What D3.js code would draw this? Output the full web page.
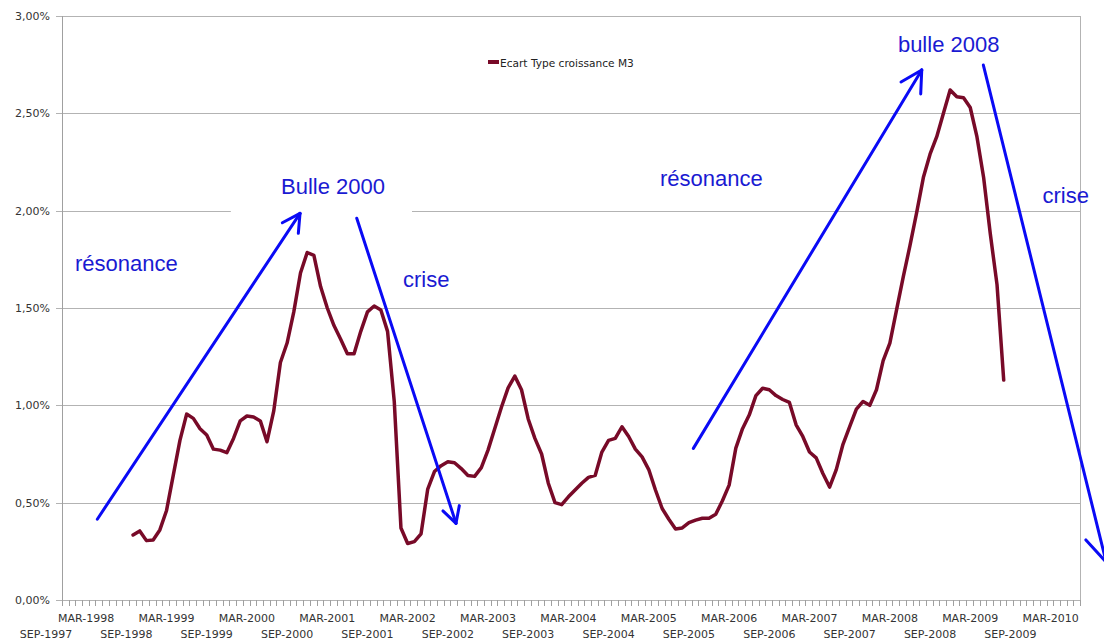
<!DOCTYPE html>
<html>
<head>
<meta charset="utf-8">
<script src="https://cdn.jsdelivr.net/npm/d3@7"></script>
<style>
  html, body { margin: 0; padding: 0; background: #fff; }
  svg { display: block; }
</style>
</head>
<body>
<svg id="chart" width="1104" height="641"></svg>
<script>
// ---------------- DATA ----------------
const yTicks = [0, 0.5, 1, 1.5, 2, 2.5, 3];
const xTickLabels = [
  "SEP-1997","MAR-1998","SEP-1998","MAR-1999","SEP-1999","MAR-2000","SEP-2000",
  "MAR-2001","SEP-2001","MAR-2002","SEP-2002","MAR-2003","SEP-2003","MAR-2004",
  "SEP-2004","MAR-2005","SEP-2005","MAR-2006","SEP-2006","MAR-2007","SEP-2007",
  "MAR-2008","SEP-2008","MAR-2009","SEP-2009","MAR-2010"
];
const seriesName = "Ecart Type croissance M3";
const seriesStart = "OCT-1998";           // first monthly value
const seriesValues = [                      // % , monthly
  0.334,0.355,0.305,0.308,0.36,0.46,0.64,0.82,0.955,0.933,0.88,0.848,
  0.775,0.77,0.757,0.83,0.92,0.945,0.94,0.92,0.813,0.97,1.22,1.32,
  1.48,1.68,1.785,1.77,1.61,1.50,1.41,1.34,1.265,1.265,1.38,1.48,
  1.51,1.49,1.38,1.02,0.37,0.29,0.30,0.34,0.57,0.66,0.69,0.71,
  0.705,0.675,0.64,0.635,0.68,0.77,0.88,0.99,1.09,1.15,1.08,0.93,
  0.83,0.75,0.60,0.50,0.49,0.53,0.565,0.60,0.63,0.64,0.76,0.82,
  0.83,0.89,0.84,0.775,0.735,0.67,0.565,0.47,0.415,0.365,0.37,0.397,
  0.41,0.42,0.42,0.44,0.51,0.59,0.78,0.88,0.95,1.05,1.088,1.08,
  1.05,1.03,1.015,0.90,0.84,0.76,0.73,0.65,0.58,0.67,0.80,0.89,
  0.98,1.02,1.00,1.08,1.23,1.32,1.49,1.66,1.82,1.99,2.17,2.29,
  2.38,2.50,2.62,2.585,2.58,2.53,2.38,2.17,1.88,1.62,1.13
];
// annotations (hand-drawn), in data space: [months after SEP-1997, %]
const annoArrows = [
  { from: [7.66, 0.415],  to: [37.93, 1.986], head: 20 },
  { from: [46.4, 1.961],  to: [61.22, 0.394], head: 18 },
  { from: [96.66, 0.779], to: [130.76, 2.723], head: 24 },
  { from: [139.96, 2.748], to: [158.3, 0.195], head: 30 }
];
const annoTexts = [
  { text: "résonance",  at: [4.33, 1.69] },
  { text: "Bulle 2000", at: [35.09, 2.086] },
  { text: "crise",      at: [53.3, 1.608] },
  { text: "résonance",  at: [91.68, 2.127] },
  { text: "bulle 2008", at: [127.2, 2.814] },
  { text: "crise",      at: [148.8, 2.04] }
];
const annoMask = { m0: 27.6, m1: 54.65, v0: 1.937, v1: 2.065 };

// ---------------- HELPERS ----------------
const MON = {JAN:0,FEB:1,MAR:2,APR:3,MAY:4,JUN:5,JUL:6,AUG:7,SEP:8,OCT:9,NOV:10,DEC:11};
function monthIndex(lbl) {            // months after SEP-1997
  const [m, y] = lbl.split("-");
  return (+y) * 12 + MON[m] - (1997 * 12 + 8);
}
const fr = d3.formatLocale({decimal: ",", thousands: " ", grouping: [3], currency: ["", "€"]});
const fmtPct = fr.format(".2f");

// ---------------- LAYOUT ----------------
const svg = d3.select("#chart");
const plot = { left: 62, right: 1080, top: 16, bottom: 600 };
const x = d3.scaleLinear().domain([2.39, 154.39]).range([plot.left, plot.right]);
const y = d3.scaleLinear().domain([0, 3]).range([plot.bottom, plot.top]);

svg.append("rect").attr("width", 1104).attr("height", 641).attr("fill", "#fff");

// gridlines
svg.append("g").selectAll("line").data(yTicks).join("line")
  .attr("x1", plot.left - 6).attr("x2", plot.right)
  .attr("y1", d => Math.round(y(d)) + 0.5).attr("y2", d => Math.round(y(d)) + 0.5)
  .attr("stroke", "#b3b3b3").attr("stroke-width", 1);

// right border & left axis
svg.append("line").attr("x1", plot.right + 0.5).attr("x2", plot.right + 0.5)
  .attr("y1", plot.top).attr("y2", plot.bottom + 6).attr("stroke", "#b3b3b3");
svg.append("line").attr("x1", plot.left + 0.5).attr("x2", plot.left + 0.5)
  .attr("y1", plot.top).attr("y2", plot.bottom).attr("stroke", "#a0a0a0");

// x ticks (monthly)
const monthTicks = d3.range(x.domain()[0], x.domain()[1] + 0.01, 1);
svg.append("g").selectAll("line").data(monthTicks).join("line")
  .attr("x1", d => Math.round(x(d)) + 0.5).attr("x2", d => Math.round(x(d)) + 0.5)
  .attr("y1", plot.bottom).attr("y2", plot.bottom + 6)
  .attr("stroke", "#a0a0a0");

// y labels
svg.append("g").selectAll("text").data(yTicks).join("text")
  .attr("x", 50).attr("y", d => y(d) + 4)
  .attr("text-anchor", "end")
  .attr("font-family", "DejaVu Sans, sans-serif").attr("font-size", 11)
  .attr("fill", "#333")
  .text(d => fmtPct(d) + "%");

// x labels (staggered)
svg.append("g").selectAll("text").data(xTickLabels).join("text")
  .attr("x", d => x(monthIndex(d)))
  .attr("y", (d, i) => i % 2 === 1 ? 622 : 638)
  .attr("text-anchor", "middle")
  .attr("font-family", "DejaVu Sans, sans-serif").attr("font-size", 11)
  .attr("fill", "#333")
  .text(d => d);

// white patch behind "Bulle 2000"
svg.append("rect")
  .attr("x", x(annoMask.m0)).attr("y", y(annoMask.v1))
  .attr("width", x(annoMask.m1) - x(annoMask.m0))
  .attr("height", y(annoMask.v0) - y(annoMask.v1))
  .attr("fill", "#fff");

// data line
const start = monthIndex(seriesStart);
const pts = seriesValues.map((v, i) => [start + i, v]);
svg.append("path").datum(pts)
  .attr("fill", "none").attr("stroke", "#780a28").attr("stroke-width", 3.5)
  .attr("stroke-linejoin", "round").attr("stroke-linecap", "round")
  .attr("d", d3.line().x(d => x(d[0])).y(d => y(d[1])));

// legend
svg.append("rect").attr("x", 488).attr("y", 60).attr("width", 11).attr("height", 4).attr("fill", "#780a28");
svg.append("text").attr("x", 500).attr("y", 66.5)
  .attr("font-family", "DejaVu Sans, sans-serif").attr("font-size", 10.6)
  .attr("fill", "#222").text(seriesName);

// annotation arrows
const ga = svg.append("g").attr("stroke", "#0a0af5").attr("stroke-width", 3)
  .attr("stroke-linecap", "round").attr("fill", "none");
annoArrows.forEach(a => {
  const x0 = x(a.from[0]), y0 = y(a.from[1]), x1 = x(a.to[0]), y1 = y(a.to[1]);
  ga.append("line").attr("x1", x0).attr("y1", y0).attr("x2", x1).attr("y2", y1);
  const ang = Math.atan2(y0 - y1, x0 - x1);
  [-0.5, 0.5].forEach(da => {
    ga.append("line").attr("x1", x1).attr("y1", y1)
      .attr("x2", x1 + a.head * Math.cos(ang + da))
      .attr("y2", y1 + a.head * Math.sin(ang + da));
  });
});

// annotation texts
svg.append("g").selectAll("text").data(annoTexts).join("text")
  .attr("x", d => x(d.at[0])).attr("y", d => y(d.at[1]))
  .attr("font-family", "Liberation Sans, Arial, sans-serif").attr("font-size", 22)
  .attr("fill", "#1a1ad2")
  .text(d => d.text);
</script>
</body>
</html>
